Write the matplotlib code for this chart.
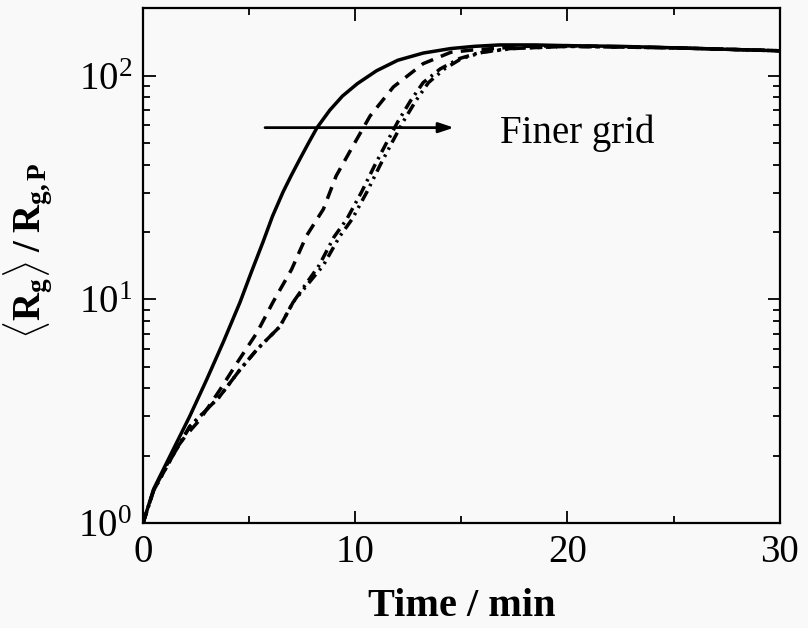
import matplotlib
matplotlib.use("Agg")
import matplotlib.pyplot as plt
from matplotlib.ticker import LogLocator, FixedLocator, NullFormatter

# ---- data ----
t_solid = [0, 0.5, 1.41, 2.2, 3.0, 3.8, 4.57, 5.1, 5.65, 6.1, 6.6, 7.0, 7.4, 7.8, 8.2, 8.8, 9.4,
           10.1, 11.0, 12.0, 13.2, 14.5, 15.6, 16.8, 18.5, 20, 22.5, 25, 27.5, 30]
v_solid = [1, 1.42, 2.12, 3.0, 4.38, 6.5, 9.7, 13.2, 18.0, 23.5, 30.2, 36.0, 42.5, 50.0, 58.5, 70, 81,
           92, 105, 117, 126, 132, 135, 137, 137, 136, 135, 133, 131, 129]

t_dash = [0, 0.5, 1.4, 2.0, 2.68, 3.63, 4.43, 5.37, 6.12, 7.0, 7.7, 8.5, 9.1, 9.9, 10.7,
          11.8, 13.2, 14.5, 15.5, 16.5, 18.0, 20, 25, 30]
v_dash = [1, 1.4, 2.05, 2.45, 2.9, 3.95, 5.2, 7.1, 9.7, 13.6, 19.2, 25.3, 35.6, 48.6, 66,
          89, 113, 127, 130, 132, 135, 136, 133, 129]

t_dd1 = [0, 0.5, 1.4, 2.2, 3.6, 4.57, 5.37, 6.45, 7.07, 7.7, 8.3, 9.0, 9.6, 10.3, 10.9,
         11.5, 12.0, 12.6, 13.2, 14.0, 14.9, 15.9, 17.3, 20, 25, 30]
v_dd1 = [1, 1.4, 2.0, 2.7, 3.67, 4.85, 5.97, 7.56, 9.7, 11.8, 14.2, 19.0, 22.8, 30.2, 39.4,
         50.6, 62, 77, 93, 107, 119, 127, 132, 135, 133, 129]

t_dd2 = [0, 0.5, 1.4, 2.2, 3.6, 4.57, 5.37, 6.45, 7.07, 7.8, 8.5, 9.25, 9.85, 10.55, 11.15,
         11.75, 12.25, 12.85, 13.45, 14.2, 15.0, 16.0, 17.4, 20, 25, 30]
v_dd2 = [1, 1.4, 2.0, 2.7, 3.67, 4.85, 5.97, 7.56, 9.7, 11.8, 14.2, 19.0, 22.8, 30.2, 39.4,
         50.6, 62, 77, 93, 107, 119, 127, 132, 135, 133, 129]

x_ticks = [0, 10, 20, 30]
y_ticks = [1, 10, 100]
y_ticklabels = [r'$10^{0}$', r'$10^{1}$', r'$10^{2}$']
arrow_start = (5.75, 58.5)
arrow_end = (14.65, 58.5)
note_text = "Finer grid"
note_pos = (16.8, 55.5)

# ---- style ----
plt.rcParams['font.family'] = ['Liberation Serif', 'DejaVu Serif']
plt.rcParams['mathtext.fontset'] = 'custom'
plt.rcParams['mathtext.rm'] = 'Liberation Serif'
plt.rcParams['mathtext.it'] = 'Liberation Serif:italic'
plt.rcParams['mathtext.bf'] = 'Liberation Serif:bold'
plt.rcParams['lines.scale_dashes'] = False

bg = '#f9f9f9'
fig = plt.figure(figsize=(8.08, 6.28), dpi=100, facecolor=bg)
ax = fig.add_axes([0.177, 0.167, 0.788, 0.820], facecolor=bg)

lw = 2.5
ax.plot(t_solid, v_solid, color='black', lw=lw, solid_joinstyle='round')
ax.plot(t_dash, v_dash, color='black', lw=lw, dashes=(9, 6))
ax.plot(t_dd1, v_dd1, color='black', lw=lw, dashes=(8, 4, 1.8, 4))
ax.plot(t_dd2, v_dd2, color='black', lw=lw, dashes=(8, 4, 1.8, 4, 1.8, 4))

ax.set_yscale('log')
ax.set_xlim(0, 30)
ax.set_ylim(1, 200)

ax.xaxis.set_major_locator(FixedLocator(x_ticks))
ax.xaxis.set_minor_locator(FixedLocator([5, 15, 25]))
ax.yaxis.set_major_locator(FixedLocator(y_ticks))
ax.yaxis.set_minor_locator(LogLocator(base=10, subs=range(2, 10)))
ax.yaxis.set_minor_formatter(NullFormatter())
ax.set_yticklabels(y_ticklabels)

ax.tick_params(which='both', direction='in', top=True, right=True, width=1.3, labelsize=28)
ax.tick_params(which='major', length=9, pad=8)
ax.tick_params(which='minor', length=5)
for s in ax.spines.values():
    s.set_linewidth(1.6)

ax.set_xlabel('Time / min', fontsize=29, fontweight='bold', labelpad=12)
ax.set_ylabel(r'$\langle\mathbf{R}_{\mathbf{g}}\rangle\;\mathbf{/}\;\mathbf{R}_{\mathbf{g,P}}$',
              fontsize=28)
ax.yaxis.set_label_coords(-0.14, 0.53)

ax.annotate('', xy=arrow_end, xytext=arrow_start,
            arrowprops=dict(arrowstyle='-|>,head_length=0.9,head_width=0.3',
                            color='black', lw=2.0, shrinkA=0, shrinkB=0))
ax.text(note_pos[0], note_pos[1], note_text, fontsize=28, va='center', ha='left')

fig.savefig('out.png', dpi=100, facecolor=bg)
